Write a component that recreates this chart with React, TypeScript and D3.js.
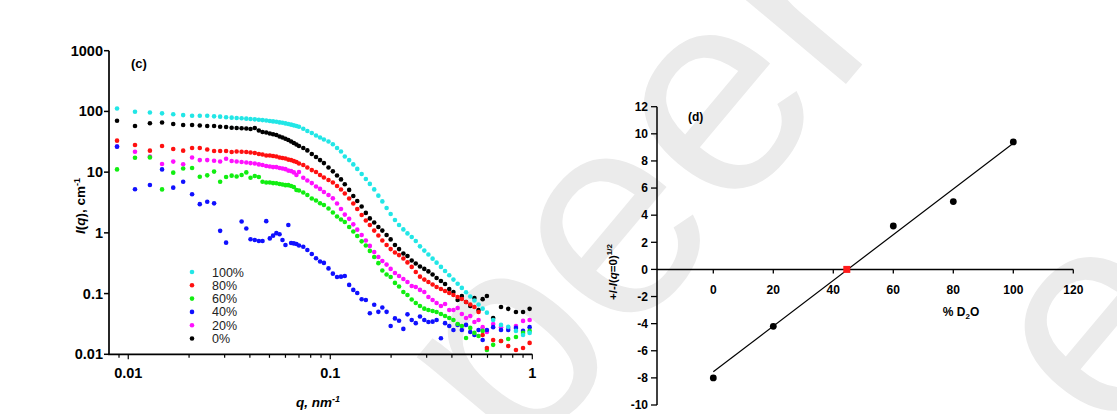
import React from "react";
import * as d3 from "d3";

// ---------- Panel (c): SANS curves ----------
const qValues = [
  0.0088, 0.0108, 0.0128, 0.0147, 0.0167, 0.0187, 0.0207, 0.0226, 0.0246, 0.0266,
  0.0285, 0.0305, 0.0325, 0.0344, 0.0364, 0.0384, 0.0403, 0.0423, 0.0443, 0.0462,
  0.0482, 0.0502, 0.0521, 0.0541, 0.0561, 0.058, 0.06, 0.062, 0.064, 0.066,
  0.068, 0.07, 0.0735, 0.077, 0.081, 0.085, 0.089, 0.093, 0.098, 0.103,
  0.108, 0.113, 0.118, 0.124, 0.13, 0.136, 0.143, 0.15, 0.157, 0.165,
  0.173, 0.181, 0.19, 0.199, 0.209, 0.219, 0.23, 0.241, 0.253, 0.265,
  0.278, 0.292, 0.306, 0.321, 0.336, 0.353, 0.37, 0.388, 0.407, 0.427,
  0.448, 0.47, 0.493, 0.517, 0.542, 0.568, 0.596, 0.64, 0.7, 0.76,
  0.83, 0.9, 0.97,
];

const i100 = [
  112, 99, 96, 93, 90, 87, 85, 85, 85, 83, 82, 80, 79, 78, 77, 76, 75, 74, 73, 72,
  71, 69.5, 68.5, 67.5, 66, 65, 63.5, 62, 60.5, 59, 57.5, 56,
  51.8, 47.6, 44.1, 40.2, 37.2, 34.5, 32, 28.8, 25, 21.9, 18.1, 15.8, 13.4, 11.3,
  9.3, 7.7, 6.4, 5.2, 4.1, 3.3, 2.57, 2.05, 1.63, 1.35, 1.14, 0.98, 0.855, 0.735,
  0.6, 0.51, 0.44, 0.376, 0.323, 0.275, 0.236, 0.2, 0.17, 0.145, 0.124, 0.105,
  0.0895, 0.077, 0.066, 0.0565, 0.0485,
  0.0368, 0.0305, 0.0283, 0.0243, 0.0208, 0.0225,
];

const i80 = [
  33, 28, 22.6, 27, 24.1, 22.6, 25, 25, 23.6, 22.3, 22.3, 22.3, 21.5, 21.9, 21.7, 21.5,
  21.1, 20.7, 19.9, 19.5, 18.8, 18.8, 18.4, 18.1, 17.4, 17.1, 16.8, 16.1, 15.8, 15.2,
  14.7, 13.9,
  13.1, 11.9, 10.8, 10.06, 8.97, 8.16, 7.43, 6.75, 5.92, 5.18, 4.45, 3.67, 3.05, 2.47,
  1.97, 1.6, 1.35, 1.09, 0.905, 0.75, 0.63, 0.54, 0.475, 0.43, 0.379, 0.326, 0.275,
  0.227, 0.19, 0.17, 0.155, 0.141, 0.128, 0.119, 0.11, 0.102, 0.095, 0.088, 0.0815,
  0.0728, 0.066, 0.06, 0.0498, 0.0208, 0.0127,
  0.0172, 0.0166, 0.0137, 0.0118, 0.0127, 0.0154,
];

const i60 = [
  11.1, 17.3, 17.5, 5.2, 9.8, 11.5, 11.7, 8.4, 8.85, 10.2, 6.96, 8.3, 8.75, 8.5, 8.97,
  9.9, 8.1, 8.64, 8.3, 6.96, 6.75, 6.75, 6.6, 6.55, 6.38, 6.25, 6.1, 6.1, 5.92, 5.7,
  5.08, 4.98,
  4.62, 4.21, 3.67, 3.41, 3.07, 2.88, 2.52, 2.17, 1.86, 1.66, 1.51, 1.25, 1.05, 0.889,
  0.725, 0.62, 0.505, 0.4, 0.317, 0.24, 0.206, 0.188, 0.15, 0.131, 0.106, 0.0948,
  0.08, 0.07, 0.0625, 0.0565, 0.0537, 0.0518, 0.0498, 0.0462, 0.0428, 0.0397, 0.0368,
  0.0316, 0.0293, 0.0186, 0.0272, 0.0225, 0.02, 0.0243, 0.0118,
  0.0143, 0.0166, 0.0179, 0.0193, 0.0225, 0.0243,
];

const i40 = [
  26.3, 5.24, 6.15, 11.1, 5.55, 6.96, 4.32, 2.97, 3.26, 3.06, 1.08, 0.69, null, null,
  1.54, 1.18, 0.785, 0.763, 0.735, 0.735, 1.56, 0.81, 0.9, 0.99, 0.95, 0.763, 0.63,
  1.35, 0.68, 0.67, 0.656, 0.62,
  0.59, 0.523, 0.449, 0.382, 0.338, 0.32, 0.26, 0.213, 0.188, 0.19, 0.195, 0.139,
  0.115, 0.102, 0.0805, 0.0785, 0.0475, 0.0655, 0.05, 0.059, 0.05, 0.0293, 0.039,
  0.0357, 0.0262, 0.0455, 0.0368, 0.0326, 0.042, 0.0368, 0.0341, 0.0345, 0.0368,
  0.0184, 0.0326, 0.0293, 0.0252, 0.0305, 0.0252, 0.0305, 0.0233, 0.0208, 0.0252,
  0.0172, 0.0252,
  0.028, 0.0252, 0.0252, 0.0272, 0.0243, 0.028,
];

const i20 = [
  26.4, 21.7, 18.1, 13.6, 14.9, 13.5, 17.4, 15.8, 15.8, 15.4, 15, 16.6, 15.3, 15, 14.7,
  14.4, 14.1, 13.9, 13.4, 13.1, 12.6, 12.4, 12.1, 12.1, 11.7, 11.5, 11.2, 10.6, 10.4,
  9.9, 8.97, 10.06,
  8.1, 7.3, 6.6, 5.8, 5.3, 4.71, 4.21, 3.7, 3.05, 2.47, 2.0, 1.7, 1.38, 1.13, 0.92,
  0.75, 0.61, 0.484, 0.4, 0.344, 0.3, 0.255, 0.218, 0.195, 0.174, 0.155, 0.133, 0.128,
  0.115, 0.106, 0.088, 0.0785, 0.07, 0.0625, 0.0675, 0.0537, 0.0537, 0.058, 0.0462,
  0.0397, 0.0428, 0.0341, 0.0368, 0.028, 0.0233,
  0.0316, 0.028, 0.0272, 0.0293, 0.0355, 0.0368,
];

const i0 = [
  70.3, 57.5, 63.8, 65.6, 62.1, 59.8, 59.8, 58.6, 57.5, 57.5, 56, 55.3, 53.9, 53.3,
  52.7, 52.2, 51.3, 53.3, 48.4, 45.8, 44.9, 43.3, 42, 41, 38.7, 37.2, 35.5, 33.8, 32,
  30.2, 28.5, 26.9,
  25, 22.8, 19.9, 17.8, 15.8, 14.1, 11.9, 10.3, 8.8, 7.6, 6.3, 5.1, 4.05, 3.35, 2.72,
  2.13, 1.73, 1.48, 1.25, 1.09, 0.92, 0.78, 0.63, 0.54, 0.457, 0.416, 0.35, 0.313,
  0.28, 0.255, 0.232, 0.206, 0.181, 0.161, 0.144, 0.119, 0.106, 0.0785, 0.0913,
  0.0728, 0.0625, 0.0847, 0.0537, 0.081, 0.091,
  0.0397, 0.06, 0.056, 0.0498, 0.0498, 0.056,
];

const legendLabels = ["100%", "80%", "60%", "40%", "20%", "0%"];
const seriesColors = ["#22e6e6", "#ff1010", "#11ee11", "#1010ff", "#ff10ff", "#000000"];
const seriesValues = [i100, i80, i60, i40, i20, i0];
const drawOrder = [5, 4, 3, 2, 1, 0];

const yTicksC = [0.01, 0.1, 1, 10, 100, 1000];
const yTickLabelsC = ["0.01", "0.1", "1", "10", "100", "1000"];
const xTicksC = [0.01, 0.1, 1];
const xTickLabelsC = ["0.01", "0.1", "1"];

// ---------- Panel (d): contrast variation ----------
const d2o = [0, 20, 60, 80, 100];
const sqrtI0 = [-8.0, -4.2, 3.2, 5.0, 9.4];
const matchPoint = [44.5, 0];
const fitX = [0, 100];
const fitY = [-7.55, 9.3];
const yTicksD = [-10, -8, -6, -4, -2, 0, 2, 4, 6, 8, 10, 12];
const xTicksD = [0, 20, 40, 60, 80, 100, 120];

const FONT = "'Liberation Sans', Arial, Helvetica, sans-serif";

export default function App() {
  const xC = d3.scaleLog().domain([0.00803, 1]).range([109, 532.3]);
  const yC = d3.scaleLog().domain([0.01, 1000]).range([354.3, 50.7]);
  const minorC = xC.ticks().filter((t) => t >= 0.00803 && t <= 1);

  const xD = d3.scaleLinear().domain([0, 120]).range([713.3, 1073.3]);
  const yD = d3.scaleLinear().domain([-10, 12]).range([405, 106.7]);

  const fitLine = d3
    .line<number>()
    .x((_, i) => xD(fitX[i]))
    .y((v) => yD(v));

  return (
    <svg
      width={1117}
      height={414}
      style={{ position: "absolute", left: 0, top: 0, display: "block", background: "#fff" }}
      fontFamily={FONT}
    >
      <style>{`body{margin:0;overflow:hidden}`}</style>
      <rect x={0} y={0} width={1117} height={414} fill="#ffffff" />

      {/* watermark */}
      <g fill="#ebebeb" fontFamily={FONT} fontSize={290}>
        <text x={522} y={470} transform="rotate(-50 522 470)">peer re</text>
        <text x={1110} y={445} transform="rotate(-50 1110 445)">e</text>
      </g>

      {/* ===== Panel (c) ===== */}
      <g>
        {drawOrder.map((si) => (
          <g key={si}>
            {seriesValues[si].map((v, i) =>
              v == null ? null : (
                <circle
                  key={i}
                  cx={xC(qValues[i])}
                  cy={yC(v)}
                  r={2.3}
                  fill={seriesColors[si]}
                />
              )
            )}
          </g>
        ))}

        {/* axes */}
        <line x1={109} x2={109} y1={yC(1000)} y2={yC(0.01)} stroke="#000" strokeWidth={1.7} />
        <line x1={108.2} x2={xC(1)} y1={yC(0.01)} y2={yC(0.01)} stroke="#000" strokeWidth={1.7} />
        {yTicksC.map((t, i) => (
          <g key={t}>
            <line x1={104} x2={109} y1={yC(t)} y2={yC(t)} stroke="#000" strokeWidth={1.5} />
            <text
              x={103}
              y={yC(t) + 5}
              textAnchor="end"
              fontSize={14.5}
              fontWeight="bold"
            >
              {yTickLabelsC[i]}
            </text>
          </g>
        ))}
        {minorC.map((t) => (
          <line
            key={t}
            x1={xC(t)}
            x2={xC(t)}
            y1={yC(0.01)}
            y2={yC(0.01) + (xTicksC.includes(t) ? 5 : 3.5)}
            stroke="#000"
            strokeWidth={1.2}
          />
        ))}
        {xTicksC.map((t, i) => (
          <text
            key={t}
            x={xC(t)}
            y={378}
            textAnchor="middle"
            fontSize={14.5}
            fontWeight="bold"
          >
            {xTickLabelsC[i]}
          </text>
        ))}

        {/* axis titles */}
        <text
          transform="translate(85 206) rotate(-90)"
          textAnchor="middle"
          fontSize={13.5}
          fontWeight="bold"
        >
          <tspan fontStyle="italic">I</tspan>
          <tspan>(</tspan>
          <tspan fontStyle="italic">q</tspan>
          <tspan>), cm</tspan>
          <tspan dy={-5} fontSize={9}>-1</tspan>
        </text>
        <text x={318} y={407} textAnchor="middle" fontSize={13.5} fontWeight="bold" fontStyle="italic">
          <tspan>q, nm</tspan>
          <tspan dy={-5} fontSize={9}>-1</tspan>
        </text>

        <text x={131} y={68} fontSize={13} fontWeight="bold">(c)</text>

        {/* legend */}
        {legendLabels.map((lab, i) => (
          <g key={lab}>
            <circle cx={192} cy={272 + i * 13.3} r={2.3} fill={seriesColors[i]} />
            <text x={212} y={276.5 + i * 13.3} fontSize={12.5} fill="#222">
              {lab}
            </text>
          </g>
        ))}
      </g>

      {/* ===== Panel (d) ===== */}
      <g>
        <line x1={657} x2={657} y1={yD(12)} y2={yD(-10)} stroke="#000" strokeWidth={1.5} />
        <line x1={657} x2={xD(120)} y1={yD(0)} y2={yD(0)} stroke="#000" strokeWidth={1.5} />
        {yTicksD.map((t) => (
          <g key={t}>
            <line x1={651} x2={657} y1={yD(t)} y2={yD(t)} stroke="#000" strokeWidth={1.3} />
            <text x={648} y={yD(t) + 4.3} textAnchor="end" fontSize={12} fontWeight="bold">
              {t}
            </text>
          </g>
        ))}
        {xTicksD.map((t) => (
          <g key={t}>
            <line x1={xD(t)} x2={xD(t)} y1={yD(0)} y2={yD(0) + 4} stroke="#000" strokeWidth={1.3} />
            <text x={xD(t)} y={294} textAnchor="middle" fontSize={12} fontWeight="bold">
              {t}
            </text>
          </g>
        ))}

        <path d={fitLine(fitY) || ""} fill="none" stroke="#000" strokeWidth={1.2} />
        {d2o.map((x, i) => (
          <circle key={x} cx={xD(x)} cy={yD(sqrtI0[i])} r={3.4} fill="#000" />
        ))}
        <rect
          x={xD(matchPoint[0]) - 3.5}
          y={yD(matchPoint[1]) - 3.5}
          width={7}
          height={7}
          fill="#ff1a1a"
        />

        <text x={688} y={121} fontSize={12} fontWeight="bold">(d)</text>

        <text x={961} y={316} textAnchor="middle" fontSize={12} fontWeight="bold">
          <tspan>% D</tspan>
          <tspan dy={3} fontSize={8}>2</tspan>
          <tspan dy={-3}>O</tspan>
        </text>

        <text
          transform="translate(617 272) rotate(-90)"
          textAnchor="middle"
          fontSize={11.5}
          fontWeight="bold"
        >
          <tspan>+/-</tspan>
          <tspan fontStyle="italic">I</tspan>
          <tspan>(</tspan>
          <tspan fontStyle="italic">q</tspan>
          <tspan>=0)</tspan>
          <tspan dy={-5} fontSize={8}>1/2</tspan>
        </text>
      </g>
    </svg>
  );
}
